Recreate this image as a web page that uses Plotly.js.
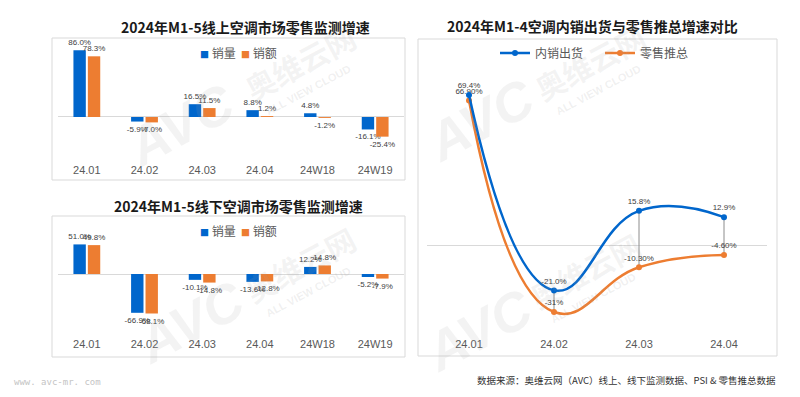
<!DOCTYPE html>
<html>
<head>
<meta charset="utf-8">
<script src="https://cdn.plot.ly/plotly-3.0.1.min.js"></script>
<style>html,body{margin:0;padding:0;background:#fff;}#chart{width:800px;height:397px;}</style>
</head>
<body>
<div id="chart"></div>
<script>
// ---- data ----
const barCategories = ['24.01', '24.02', '24.03', '24.04', '24W18', '24W19'];
const onlineVolume = [86.0, -5.9, 16.5, 8.8, 4.8, -16.1];
const onlineAmount = [78.3, -7.0, 11.5, 1.2, -1.2, -25.4];
const offlineVolume = [51.0, -66.9, -10.1, -13.6, 12.2, -5.2];
const offlineAmount = [49.8, -68.1, -14.8, -12.8, 14.8, -7.9];

const lineCategories = ['24.01', '24.02', '24.03', '24.04'];
const shipment = [69.4, -21.0, 15.8, 12.9];
const shipmentLabels = ['69.4%', '-21.0%', '15.8%', '12.9%'];
const retail = [66.9, -31.0, -10.3, -4.6];
const retailLabels = ['66.90%', '-31%', '-10.30%', '-4.60%'];

const seriesNames = ['销量', '销额'];
const lineNames = ['内销出货', '零售推总'];
const titles = ['2024年M1-5线上空调市场零售监测增速', '2024年M1-5线下空调市场零售监测增速', '2024年M1-4空调内销出货与零售推总增速对比'];
const sourceText = '数据来源：奥维云网（AVC）线上、线下监测数据、PSI & 零售推总数据';
const siteText = 'www. avc-mr. com';

// ---- styles ----
const BLUE = '#0066cc';
const ORANGE = '#ed7d31';
const FONT = 'Liberation Sans, Noto Sans CJK SC, sans-serif';
const CJK = 'Noto Sans CJK SC, sans-serif';
const labelFont = {family: FONT, size: 8, color: '#404040'};

function barTrace(x, y, name, color, xa, ya) {
  return {
    type: 'bar', x: x, y: y, name: name, xaxis: xa, yaxis: ya, showlegend: false,
    marker: {color: color},
    texttemplate: '%{y:.1f}%', textposition: 'outside', textfont: labelFont,
    constraintext: 'none', cliponaxis: false, hoverinfo: 'skip'
  };
}

const dropX = [], dropY = [];
lineCategories.forEach((c, i) => { dropX.push(c, c, null); dropY.push(shipment[i], retail[i], null); });

const traces = [
  barTrace(barCategories, onlineVolume, seriesNames[0], BLUE, 'x', 'y'),
  barTrace(barCategories, onlineAmount, seriesNames[1], ORANGE, 'x', 'y'),
  barTrace(barCategories, offlineVolume, seriesNames[0], BLUE, 'x2', 'y2'),
  barTrace(barCategories, offlineAmount, seriesNames[1], ORANGE, 'x2', 'y2'),
  {type: 'scatter', mode: 'lines', x: dropX, y: dropY, xaxis: 'x3', yaxis: 'y3',
   line: {color: '#8c8c8c', width: 1}, showlegend: false, hoverinfo: 'skip'},
  {type: 'scatter', mode: 'lines+markers+text', x: lineCategories, y: retail, name: lineNames[1],
   xaxis: 'x3', yaxis: 'y3', legend: 'legend3',
   line: {color: ORANGE, width: 2.5, shape: 'spline', smoothing: 1.3},
   marker: {color: ORANGE, size: 6}, text: retailLabels, textposition: 'top center',
   textfont: labelFont, cliponaxis: false},
  {type: 'scatter', mode: 'lines+markers+text', x: lineCategories, y: shipment, name: lineNames[0],
   xaxis: 'x3', yaxis: 'y3', legend: 'legend3',
   line: {color: BLUE, width: 2.5, shape: 'spline', smoothing: 1.3},
   marker: {color: BLUE, size: 6}, text: shipmentLabels, textposition: 'top center',
   textfont: labelFont, cliponaxis: false}
];

function xAxis(domain, anchor, n) {
  return {domain: domain, anchor: anchor, type: 'category', range: [-0.5, n - 0.5], showgrid: false, showline: false,
          ticks: '', zeroline: false, tickfont: {family: FONT, size: 11, color: '#595959'}, fixedrange: true};
}
function yAxis(domain, range, anchor) {
  return {domain: domain, anchor: anchor, range: range, showgrid: false, showline: false,
          showticklabels: false, ticks: '', zeroline: true, zerolinecolor: '#d9d9d9', zerolinewidth: 1, fixedrange: true};
}

const py = v => 1 - v / 397;
const px = v => v / 800;

function frame(x0, y0, x1, y1) {
  return {type: 'rect', xref: 'paper', yref: 'paper', x0: px(x0), x1: px(x1), y0: py(y1), y1: py(y0),
          line: {color: '#d9d9d9', width: 1}, fillcolor: 'rgba(0,0,0,0)', layer: 'below'};
}

const sq = c => "<span style='color:" + c + ";font-size:9px'>■</span>";
const barLegend = sq(BLUE) + ' ' + seriesNames[0] + '  ' + sq(ORANGE) + ' ' + seriesNames[1];

const annotations = [
  {text: titles[0], x: px(245), y: py(27), font: {family: CJK, size: 14, color: '#1a1a1a', weight: 'bold'}},
  {text: titles[1], x: px(238), y: py(206), font: {family: CJK, size: 14, color: '#1a1a1a', weight: 'bold'}},
  {text: titles[2], x: px(592), y: py(26), font: {family: CJK, size: 14, color: '#1a1a1a', weight: 'bold'}},
  {text: barLegend, x: px(238), y: py(53), font: {family: CJK, size: 12, color: '#595959'}},
  {text: barLegend, x: px(238), y: py(230), font: {family: CJK, size: 12, color: '#595959'}},
  {text: sourceText, x: px(626), y: py(380), font: {family: CJK, size: 9.5, color: '#333333'}},
  {text: siteText, x: px(58), y: py(382), font: {family: 'DejaVu Sans Mono, monospace', size: 9, color: '#c4c4c4'}}
];
// watermarks
const wm = [[180, 125, 300, 70], [190, 322, 300, 272], [480, 120, 590, 70], [478, 330, 585, 278]];
wm.forEach(w => {
  annotations.push({text: 'AVC', x: px(w[0]), y: py(w[1]), textangle: -28,
    font: {family: 'Liberation Sans, sans-serif', size: 54, color: 'rgba(160,160,160,0.13)', weight: 'bold', style: 'italic'}});
  annotations.push({text: '奥维云网', x: px(w[2]), y: py(w[3] - 8), textangle: -28,
    font: {family: CJK, size: 30, color: 'rgba(160,160,160,0.13)', weight: 'bold'}});
  annotations.push({text: 'ALL VIEW CLOUD', x: px(w[2] + 8), y: py(w[3] + 20), textangle: -28,
    font: {family: 'Liberation Sans, sans-serif', size: 11, color: 'rgba(160,160,160,0.16)', weight: 'bold'}});
});
annotations.forEach(a => { a.xref = 'paper'; a.yref = 'paper'; a.showarrow = false; a.xanchor = 'center'; a.yanchor = 'middle'; });

const layout = {
  width: 800, height: 397, margin: {l: 0, r: 0, t: 0, b: 0},
  paper_bgcolor: '#ffffff', plot_bgcolor: 'rgba(0,0,0,0)',
  font: {family: FONT},
  barmode: 'group', bargap: 0.5, bargroupgap: 0.14,
  showlegend: true,
  xaxis: xAxis([px(58), px(404)], 'y', barCategories.length),
  yaxis: yAxis([py(162), py(40)], [-58.1, 99.35], 'x'),
  xaxis2: xAxis([px(58), px(404)], 'y2', barCategories.length),
  yaxis2: yAxis([py(336), py(228)], [-106.9, 79.3], 'x2'),
  xaxis3: xAxis([px(426.5), px(766.5)], 'y3', lineCategories.length),
  yaxis3: yAxis([py(336), py(60)], [-42.1, 85.6], 'x3'),
  legend3: {x: px(600), y: py(53), xanchor: 'center', yanchor: 'middle', orientation: 'h',
            font: {family: CJK, size: 12, color: '#595959'}, bgcolor: 'rgba(0,0,0,0)',
            itemwidth: 30, traceorder: 'reversed', entrywidth: 60},
  shapes: [frame(52, 38, 405, 180), frame(52, 216, 405, 357), frame(418, 39, 777, 356)],
  annotations: annotations
};

Plotly.newPlot('chart', traces, layout, {displayModeBar: false, staticPlot: true});
</script>
</body>
</html>
